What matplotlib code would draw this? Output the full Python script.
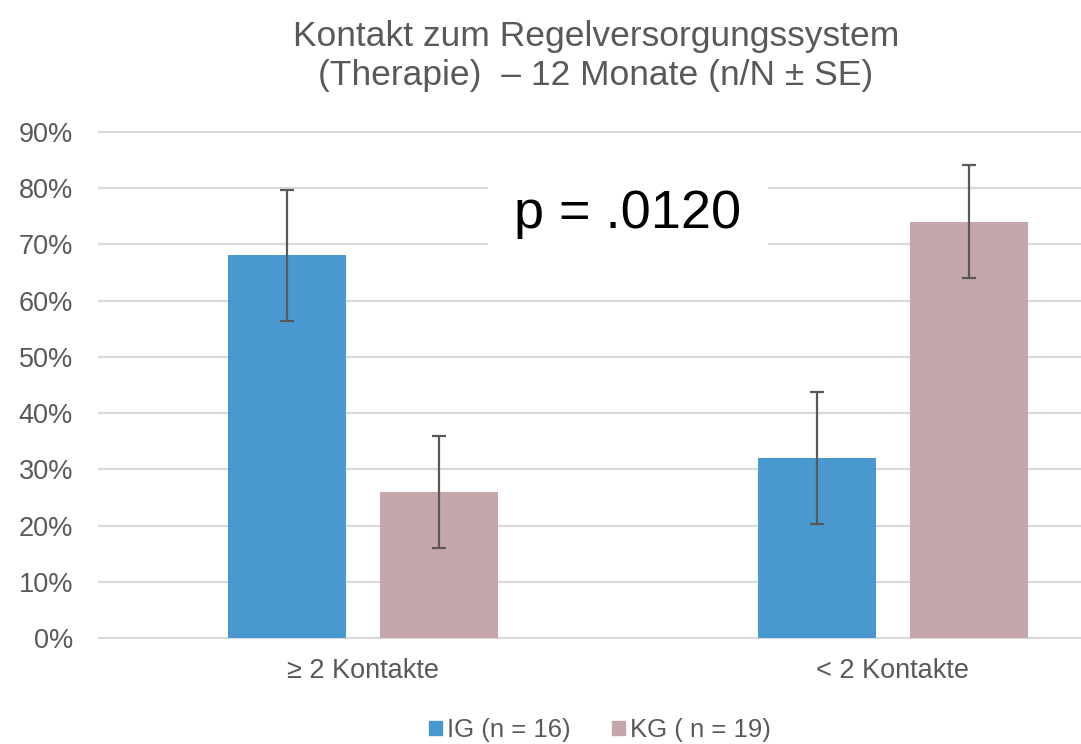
import matplotlib
matplotlib.use("Agg")
import matplotlib.pyplot as plt
from matplotlib.patches import Patch
import numpy as np

# data
categories = ["≥ 2 Kontakte", "< 2 Kontakte"]
ig_values = [0.68, 0.32]
kg_values = [0.26, 0.74]
ig_se = [0.117, 0.117]
kg_se = [0.10, 0.10]
ig_label = "IG (n = 16)"
kg_label = "KG ( n = 19)"
y_ticks = [0.0, 0.1, 0.2, 0.3, 0.4, 0.5, 0.6, 0.7, 0.8, 0.9]
title_lines = ["Kontakt zum Regelversorgungssystem", "(Therapie)  – 12 Monate (n/N ± SE)"]
p_text = "p = .0120"

blue = "#4a98d0"
pink = "#c5a6aa"
grey = "#595959"

plt.rcParams['font.family'] = ['Liberation Sans', 'DejaVu Sans']

fig = plt.figure(figsize=(10.81, 7.44), dpi=100)
# the original chart is cropped on the right, so the axes run past the edge
ax = fig.add_axes([98 / 1081, 105 / 744, 1060 / 1081, 508 / 744])

x = np.arange(len(categories))
w = 0.223
off = 0.143
err_kw = dict(ecolor=grey, elinewidth=1.6, capsize=5, capthick=1.6)
ax.bar(x - off, ig_values, w, yerr=ig_se, color=blue, error_kw=err_kw, zorder=3)
ax.bar(x + off, kg_values, w, yerr=kg_se, color=pink, error_kw=err_kw, zorder=3)

ax.set_xlim(-0.5, 1.5)
ax.set_ylim(-0.001, 0.901)
ax.set_yticks(y_ticks)
ax.set_yticklabels([f"{int(round(t * 100))}%" for t in y_ticks])
ax.set_xticks(x)
ax.set_xticklabels(categories)
ax.tick_params(axis='both', length=0, labelsize=19.5, colors=grey)
ax.tick_params(axis='y', pad=18)
ax.tick_params(axis='x', pad=14)
ax.yaxis.grid(True, color="#d9d9d9", linewidth=1.6, zorder=0)
ax.set_axisbelow(True)
for s in ax.spines.values():
    s.set_visible(False)

ax.text(0.5, 0.754, p_text, ha='center', va='center', fontsize=39, color='black',
        zorder=4, bbox=dict(facecolor='white', edgecolor='none', pad=19))

fig.text(596 / 1081, 1 - 46 / 744, title_lines[0], ha='center', va='baseline',
         fontsize=25.5, color=grey)
fig.text(596 / 1081, 1 - 85 / 744, title_lines[1], ha='center', va='baseline',
         fontsize=25.5, color=grey)

handles = [Patch(color=blue, label=ig_label), Patch(color=pink, label=kg_label)]
fig.legend(handles=handles, loc='center', bbox_to_anchor=(600 / 1081, 1 - 730 / 744),
           ncol=2, frameon=False, fontsize=18.5, labelcolor=grey,
           handlelength=0.5, handleheight=0.5, handletextpad=0.2, columnspacing=1.6,
           borderpad=0)

fig.savefig("out.png", dpi=100)
